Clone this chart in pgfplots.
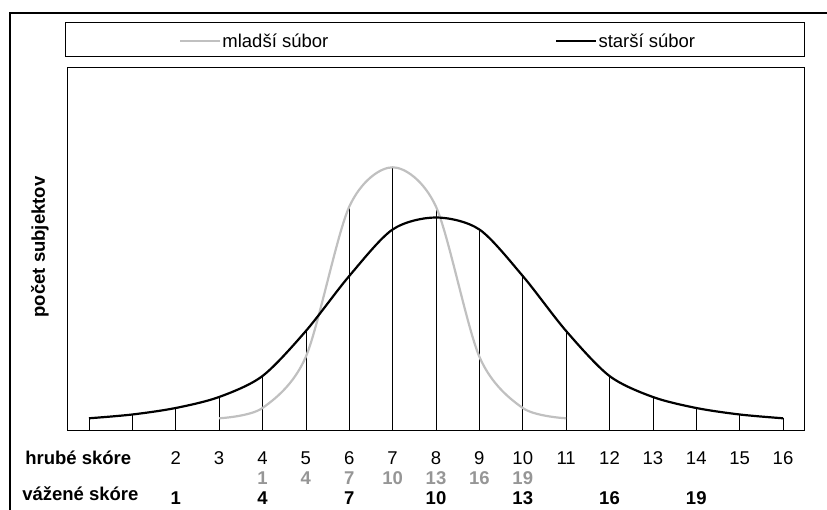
\documentclass[border=0pt]{standalone}
\usepackage{fontspec}
\setmainfont{Liberation Sans}
\usepackage{pgfplots}
\pgfplotsset{compat=1.18}
\usepackage{pgfplotstable}

\definecolor{lgray}{RGB}{192,192,192}
\definecolor{mgray}{RGB}{150,150,150}
\newcommand\cf{\fontsize{18.5}{22}\selectfont}

% younger group (grey) and older group (black)
\pgfplotstableread{
x y
3 12.7
4 23
5 74.3
6 224.3
7 263.7
8 224.3
9 74.3
10 23
11 12.7
}\younger
\pgfplotstableread{
x y
0 12.7
1 16.5
2 23
3 34
4 55
5 100
6 155
7 201.5
8 213.5
9 201.5
10 155
11 100
12 55
13 34
14 23
15 16.5
16 12.7
}\older
% drop lines: height of the higher series at each score
\pgfplotstableread{
x y
0 12.7
1 16.5
2 23
3 34
4 55
5 100
6 224.3
7 263.7
8 224.3
9 201.5
10 155
11 100
12 55
13 34
14 23
15 16.5
16 12.7
}\drops

\begin{document}
\begin{tikzpicture}[x=1pt,y=1pt]
\useasboundingbox (0,0) rectangle (827,510);
% outer frame (left and top only)
\draw[line width=1.4pt] (10,0) -- (10,497) -- (827,497);
% legend frame
\draw[line width=1pt] (65,453) rectangle (804,487);

\begin{axis}[
    at={(67pt,79pt)}, anchor=south west,
    scale only axis,
    width=737pt, height=363pt,
    xmin=-0.507, xmax=16.484,
    ymin=0, ymax=363,
    clip=false,
    axis line style={line width=1pt},
    xtick={2,...,16},
    ytick=\empty,
    xtick style={draw=none},
    /pgf/number format/assume math mode=true,
    xticklabel style={font=\cf, anchor=center, yshift=-27pt},
    ylabel={\textbf{počet subjektov}},
    every axis y label/.style={at={(axis description cs:-0.0367,0.507)}, rotate=90, anchor=center, font=\cf},
    legend columns=2,
    legend style={at={(axis description cs:0.152,1.0744)}, anchor=west, draw=none, fill=none,
        font=\cf, inner sep=0pt, nodes={inner xsep=1pt, inner ysep=1.5pt},
        /tikz/every even column/.append style={column sep=226pt}},
    legend image code/.code={\draw[#1] (0pt,0pt) -- (40pt,0pt);},
]
\addplot[ycomb, black, line width=0.7pt, forget plot] table {\drops};
\addplot[smooth, color=lgray, line width=2.2pt] table {\younger};
\addlegendentry{mladší súbor}
\addplot[smooth, black, line width=2.2pt] table {\older};
\addlegendentry{starší súbor}

\node[anchor=base west, font=\cf\bfseries] at (axis cs:-1.55,-33.6) {hrubé skóre};
\node[anchor=west, font=\cf\bfseries] at (axis cs:-1.62,-63) {vážené skóre};
% weighted scores, younger group
\node[font=\cf\bfseries, text=mgray] at (axis cs:4,-47) {1};
\node[font=\cf\bfseries, text=mgray] at (axis cs:5,-47) {4};
\node[font=\cf\bfseries, text=mgray] at (axis cs:6,-47) {7};
\node[font=\cf\bfseries, text=mgray] at (axis cs:7,-47) {10};
\node[font=\cf\bfseries, text=mgray] at (axis cs:8,-47) {13};
\node[font=\cf\bfseries, text=mgray] at (axis cs:9,-47) {16};
\node[font=\cf\bfseries, text=mgray] at (axis cs:10,-47) {19};
% weighted scores, older group
\node[font=\cf\bfseries] at (axis cs:2,-67) {1};
\node[font=\cf\bfseries] at (axis cs:4,-67) {4};
\node[font=\cf\bfseries] at (axis cs:6,-67) {7};
\node[font=\cf\bfseries] at (axis cs:8,-67) {10};
\node[font=\cf\bfseries] at (axis cs:10,-67) {13};
\node[font=\cf\bfseries] at (axis cs:12,-67) {16};
\node[font=\cf\bfseries] at (axis cs:14,-67) {19};
\end{axis}
\end{tikzpicture}
\end{document}
